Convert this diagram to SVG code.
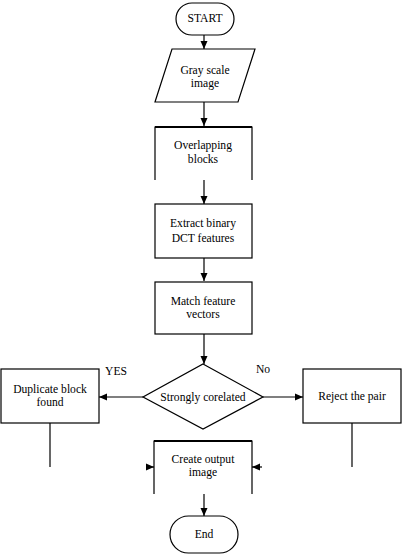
<svg xmlns="http://www.w3.org/2000/svg" width="402" height="555" viewBox="0 0 402 555">
<style>
.s{fill:#fff;stroke:#000;stroke-width:1.2}
.t{font-family:"Liberation Serif","Times New Roman",serif;font-size:11.6px;fill:#000;text-anchor:middle}
.c{fill:none;stroke:#000;stroke-width:1.2}
.thick{stroke:#000;stroke-width:2}
</style>
<defs>
<marker id="ah" viewBox="0 0 8 8" refX="8" refY="4" markerWidth="8" markerHeight="8" markerUnits="userSpaceOnUse" orient="auto">
<path d="M0,0.5 L8,4 L0,7.5 Z" fill="#000"/>
</marker>
</defs>
<rect width="402" height="555" fill="#fff"/>
<g id="connectors">
<line class="c" x1="204" y1="35" x2="204" y2="49" marker-end="url(#ah)"/>
<line class="c" x1="204" y1="102" x2="204" y2="126" marker-end="url(#ah)"/>
<line class="c" x1="204" y1="180" x2="204" y2="204" marker-end="url(#ah)"/>
<line class="c" x1="204" y1="258" x2="204" y2="281" marker-end="url(#ah)"/>
<line class="c" x1="204" y1="334" x2="204" y2="364" marker-end="url(#ah)"/>
<line class="c" x1="143" y1="397" x2="99" y2="397" marker-end="url(#ah)"/>
<line class="c" x1="263" y1="397" x2="303" y2="397" marker-end="url(#ah)"/>
<line class="c" x1="50" y1="423" x2="50" y2="467"/>
<line class="c" x1="352" y1="423" x2="352" y2="467"/>
<line class="c" x1="146" y1="467" x2="154" y2="467" marker-end="url(#ah)"/>
<line class="c" x1="262" y1="467" x2="252" y2="467" marker-end="url(#ah)"/>
<line class="c" x1="204" y1="494" x2="204" y2="516" marker-end="url(#ah)"/>
<text class="t" x="116" y="375">YES</text>
<text class="t" x="263" y="373">No</text>
</g>
<g id="start">
<rect class="s" x="176" y="3" width="58" height="32" rx="16"/>
<text class="t" x="205" y="22">START</text>
</g>
<g id="gray">
<polygon class="s" points="172,49 255,49 238,102 155,102"/>
<text class="t" x="205" y="74">Gray scale</text>
<text class="t" x="205" y="87">image</text>
</g>
<g id="overlap">
<path class="c" d="M155,180 V127 H252 V180"/>
<line class="thick" x1="155" y1="127" x2="252" y2="127"/>
<text class="t" x="203" y="149">Overlapping</text>
<text class="t" x="203" y="163">blocks</text>
</g>
<g id="extract">
<rect class="s" x="155" y="204" width="97" height="54"/>
<text class="t" x="203" y="227">Extract binary</text>
<text class="t" x="203" y="242">DCT features</text>
</g>
<g id="match">
<rect class="s" x="155" y="282" width="97" height="52"/>
<text class="t" x="203" y="305">Match feature</text>
<text class="t" x="203" y="318">vectors</text>
</g>
<g id="decision">
<polygon class="s" points="203,364 263,397 203,429 143,397"/>
<text class="t" x="203" y="401">Strongly corelated</text>
</g>
<g id="duplicate">
<rect class="s" x="1" y="369" width="98" height="54"/>
<text class="t" x="50" y="393">Duplicate block</text>
<text class="t" x="50" y="406">found</text>
</g>
<g id="reject">
<rect class="s" x="303" y="369" width="98" height="54"/>
<text class="t" x="352" y="400">Reject the pair</text>
</g>
<g id="create">
<path class="c" d="M154,494 V441 H252 V494"/>
<line class="thick" x1="154" y1="441" x2="252" y2="441"/>
<text class="t" x="203" y="463">Create output</text>
<text class="t" x="203" y="476">image</text>
</g>
<g id="end">
<rect class="s" x="170" y="516" width="68" height="37" rx="18.5"/>
<text class="t" x="204" y="538">End</text>
</g>
</svg>
